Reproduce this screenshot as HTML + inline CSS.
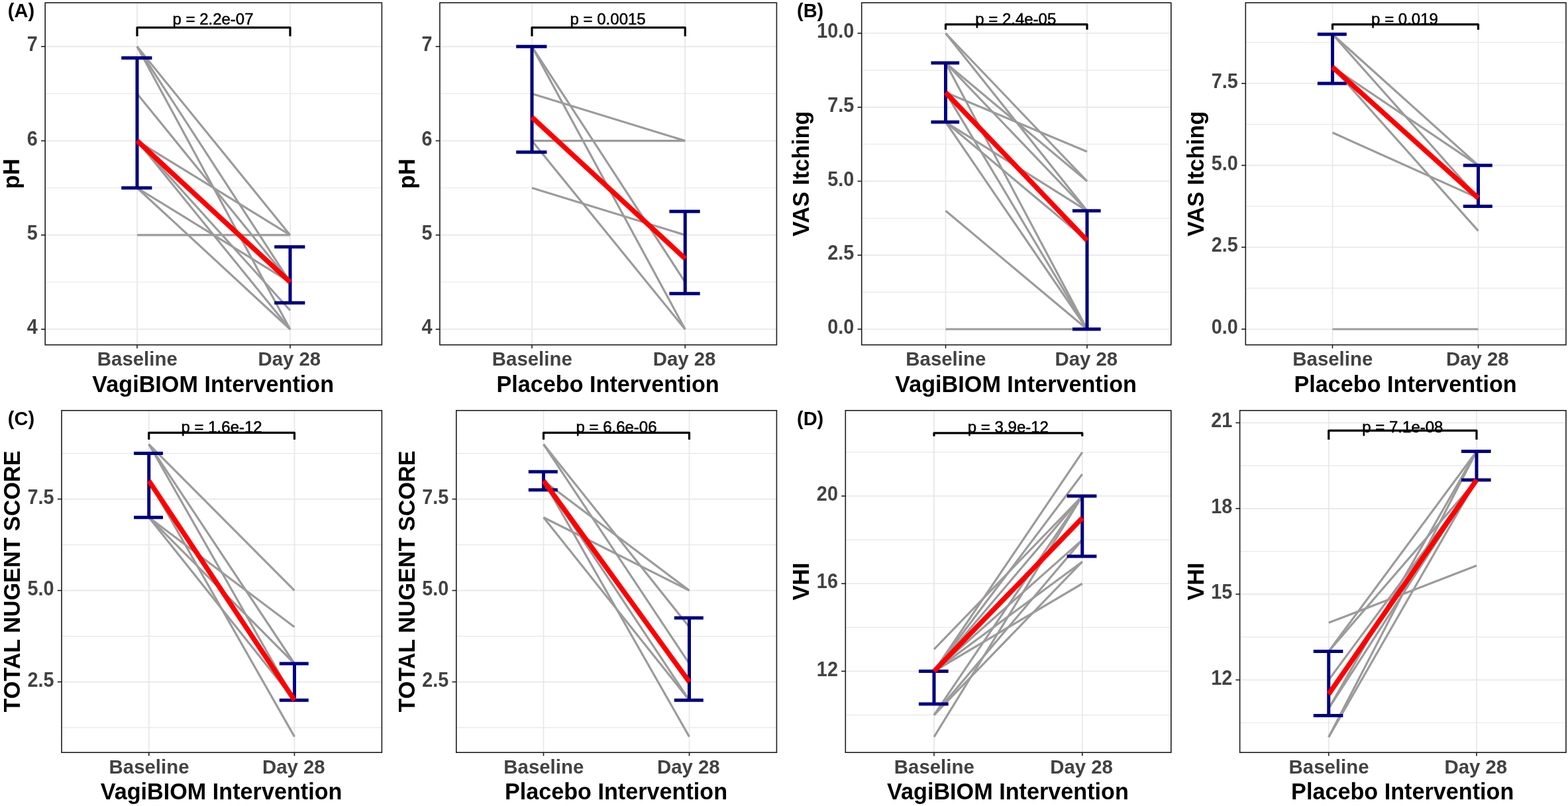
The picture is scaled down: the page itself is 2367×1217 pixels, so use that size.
<!DOCTYPE html>
<html lang="en"><head><meta charset="utf-8"><title>Figure</title>
<style>
html,body{margin:0;padding:0;background:#fff;}
body{width:2367px;height:1217px;overflow:hidden;}
svg{display:block;}
text{font-family:"Liberation Sans", sans-serif;}
.tk{font-size:29.4px;font-weight:bold;fill:#424242;}
.ty{font-size:28.8px;}
.ti{font-size:34.2px;font-weight:bold;fill:#000;}
.pv{font-size:24px;fill:#000;stroke:#000;stroke-width:0.5px;}
.tg{font-size:29px;font-weight:bold;fill:#000;}
.gM{stroke:#e7e7e7;stroke-width:1.7;}
.gm{stroke:#e7e7e7;stroke-width:1.1;}
.dl{stroke:#9b9b9b;stroke-width:3.2;stroke-linecap:butt;}
.rd{stroke:#ff0000;stroke-width:7.5;stroke-linecap:butt;}
.eb{stroke:#000080;stroke-width:5;fill:none;}
.br{stroke:#000;stroke-width:3.2;fill:none;stroke-linejoin:round;}
.fr{stroke:#1c1c1c;stroke-width:1.6;fill:none;}
.tm{stroke:#1c1c1c;stroke-width:1.6;}
</style></head><body>
<svg width="2367" height="1217" viewBox="0 0 2367 1217" role="img" aria-label="Paired line plots of pH, VAS itching, total Nugent score and VHI at baseline and day 28">
<rect x="0" y="0" width="2367" height="1217" fill="#ffffff"/>
<g id="A1">
<rect x="68.2" y="4.2" width="508.2" height="516.5" fill="#fff"/>
<line class="gm" x1="68.2" x2="576.4" y1="426.05" y2="426.05"/>
<line class="gm" x1="68.2" x2="576.4" y1="283.75" y2="283.75"/>
<line class="gm" x1="68.2" x2="576.4" y1="141.45" y2="141.45"/>
<line class="gM" x1="68.2" x2="576.4" y1="497.2" y2="497.2"/>
<line class="gM" x1="68.2" x2="576.4" y1="354.9" y2="354.9"/>
<line class="gM" x1="68.2" x2="576.4" y1="212.6" y2="212.6"/>
<line class="gM" x1="68.2" x2="576.4" y1="70.3" y2="70.3"/>
<line class="gM" x1="207" x2="207" y1="4.2" y2="520.7"/>
<line class="gM" x1="438" x2="438" y1="4.2" y2="520.7"/>
<line class="dl" x1="207" y1="70.3" x2="438" y2="354.9"/>
<line class="dl" x1="207" y1="70.3" x2="438" y2="426.05"/>
<line class="dl" x1="207" y1="70.3" x2="438" y2="497.2"/>
<line class="dl" x1="207" y1="141.45" x2="438" y2="426.05"/>
<line class="dl" x1="207" y1="212.6" x2="438" y2="354.9"/>
<line class="dl" x1="207" y1="212.6" x2="438" y2="426.05"/>
<line class="dl" x1="207" y1="212.6" x2="438" y2="468.74"/>
<line class="dl" x1="207" y1="212.6" x2="438" y2="497.2"/>
<line class="dl" x1="207" y1="283.75" x2="438" y2="426.05"/>
<line class="dl" x1="207" y1="283.75" x2="438" y2="497.2"/>
<line class="dl" x1="207" y1="354.9" x2="438" y2="354.9"/>
<path class="eb" d="M183.2 87.38H229.4M183.2 283.75H229.4M207 87.38V283.75"/>
<path class="eb" d="M414.2 372.69H460.4M414.2 457.36H460.4M438 372.69V457.36"/>
<line class="rd" x1="207" y1="212.6" x2="438" y2="426.05"/>
<text class="pv" transform="translate(321.5 37) scale(1 1.03)" text-anchor="middle">p = 2.2e-07</text>
<path class="br" d="M207 54.8V41.6H438V54.8"/>
<rect class="fr" x="68.2" y="4.2" width="508.2" height="516.5"/>
<line class="tm" x1="62" x2="68.2" y1="497.2" y2="497.2"/>
<text class="tk ty" transform="translate(56.8 504.2) scale(1 1.08)" text-anchor="end">4</text>
<line class="tm" x1="62" x2="68.2" y1="354.9" y2="354.9"/>
<text class="tk ty" transform="translate(56.8 361.9) scale(1 1.08)" text-anchor="end">5</text>
<line class="tm" x1="62" x2="68.2" y1="212.6" y2="212.6"/>
<text class="tk ty" transform="translate(56.8 219.6) scale(1 1.08)" text-anchor="end">6</text>
<line class="tm" x1="62" x2="68.2" y1="70.3" y2="70.3"/>
<text class="tk ty" transform="translate(56.8 77.3) scale(1 1.08)" text-anchor="end">7</text>
<line class="tm" x1="207" x2="207" y1="520.7" y2="525.9"/>
<text class="tk" transform="translate(207.3 552.4) scale(1 1.03)" text-anchor="middle">Baseline</text>
<line class="tm" x1="438" x2="438" y1="520.7" y2="525.9"/>
<text class="tk" transform="translate(436.8 552.4) scale(1 1.03)" text-anchor="middle">Day 28</text>
<text class="ti" transform="translate(321.7 591.5) scale(1 1.04)" text-anchor="middle">VagiBIOM Intervention</text>
<text class="ti" transform="translate(29.3 262.45) rotate(-90) scale(1 1.04)" text-anchor="middle">pH</text>
<text class="tg" transform="translate(11.8 26) scale(1 1.03)" text-anchor="start">(A)</text>
</g>
<g id="A2">
<rect x="663.9" y="4.2" width="508.5" height="516.5" fill="#fff"/>
<line class="gm" x1="663.9" x2="1172.4" y1="426.05" y2="426.05"/>
<line class="gm" x1="663.9" x2="1172.4" y1="283.75" y2="283.75"/>
<line class="gm" x1="663.9" x2="1172.4" y1="141.45" y2="141.45"/>
<line class="gM" x1="663.9" x2="1172.4" y1="497.2" y2="497.2"/>
<line class="gM" x1="663.9" x2="1172.4" y1="354.9" y2="354.9"/>
<line class="gM" x1="663.9" x2="1172.4" y1="212.6" y2="212.6"/>
<line class="gM" x1="663.9" x2="1172.4" y1="70.3" y2="70.3"/>
<line class="gM" x1="803" x2="803" y1="4.2" y2="520.7"/>
<line class="gM" x1="1034.25" x2="1034.25" y1="4.2" y2="520.7"/>
<line class="dl" x1="803" y1="70.3" x2="1034.25" y2="426.05"/>
<line class="dl" x1="803" y1="70.3" x2="1034.25" y2="497.2"/>
<line class="dl" x1="803" y1="141.45" x2="1034.25" y2="212.6"/>
<line class="dl" x1="803" y1="212.6" x2="1034.25" y2="212.6"/>
<line class="dl" x1="803" y1="212.6" x2="1034.25" y2="497.2"/>
<line class="dl" x1="803" y1="283.75" x2="1034.25" y2="354.9"/>
<path class="eb" d="M779.17 70.3H825.42M779.17 229.68H825.42M803 70.3V229.68"/>
<path class="eb" d="M1010.42 319.32H1056.67M1010.42 443.13H1056.67M1034.25 319.32V443.13"/>
<line class="rd" x1="803" y1="177.02" x2="1034.25" y2="390.47"/>
<text class="pv" transform="translate(917.62 37) scale(1 1.03)" text-anchor="middle">p = 0.0015</text>
<path class="br" d="M803 54.8V41.6H1034.25V54.8"/>
<rect class="fr" x="663.9" y="4.2" width="508.5" height="516.5"/>
<line class="tm" x1="657.7" x2="663.9" y1="497.2" y2="497.2"/>
<text class="tk ty" transform="translate(652.5 504.2) scale(1 1.08)" text-anchor="end">4</text>
<line class="tm" x1="657.7" x2="663.9" y1="354.9" y2="354.9"/>
<text class="tk ty" transform="translate(652.5 361.9) scale(1 1.08)" text-anchor="end">5</text>
<line class="tm" x1="657.7" x2="663.9" y1="212.6" y2="212.6"/>
<text class="tk ty" transform="translate(652.5 219.6) scale(1 1.08)" text-anchor="end">6</text>
<line class="tm" x1="657.7" x2="663.9" y1="70.3" y2="70.3"/>
<text class="tk ty" transform="translate(652.5 77.3) scale(1 1.08)" text-anchor="end">7</text>
<line class="tm" x1="803" x2="803" y1="520.7" y2="525.9"/>
<text class="tk" transform="translate(803.3 552.4) scale(1 1.03)" text-anchor="middle">Baseline</text>
<line class="tm" x1="1034.25" x2="1034.25" y1="520.7" y2="525.9"/>
<text class="tk" transform="translate(1033.05 552.4) scale(1 1.03)" text-anchor="middle">Day 28</text>
<text class="ti" transform="translate(917.55 591.5) scale(1 1.04)" text-anchor="middle">Placebo Intervention</text>
<text class="ti" transform="translate(625.8 262.45) rotate(-90) scale(1 1.04)" text-anchor="middle">pH</text>
</g>
<g id="B1">
<rect x="1300.7" y="4.2" width="467.1" height="516.5" fill="#fff"/>
<line class="gm" x1="1300.7" x2="1767.8" y1="441.16" y2="441.16"/>
<line class="gm" x1="1300.7" x2="1767.8" y1="329.47" y2="329.47"/>
<line class="gm" x1="1300.7" x2="1767.8" y1="217.78" y2="217.78"/>
<line class="gm" x1="1300.7" x2="1767.8" y1="106.09" y2="106.09"/>
<line class="gM" x1="1300.7" x2="1767.8" y1="497" y2="497"/>
<line class="gM" x1="1300.7" x2="1767.8" y1="385.31" y2="385.31"/>
<line class="gM" x1="1300.7" x2="1767.8" y1="273.62" y2="273.62"/>
<line class="gM" x1="1300.7" x2="1767.8" y1="161.94" y2="161.94"/>
<line class="gM" x1="1300.7" x2="1767.8" y1="50.25" y2="50.25"/>
<line class="gM" x1="1427.5" x2="1427.5" y1="4.2" y2="520.7"/>
<line class="gM" x1="1641" x2="1641" y1="4.2" y2="520.7"/>
<line class="dl" x1="1427.5" y1="50.25" x2="1641" y2="273.62"/>
<line class="dl" x1="1427.5" y1="50.25" x2="1641" y2="318.3"/>
<line class="dl" x1="1427.5" y1="94.92" x2="1641" y2="273.62"/>
<line class="dl" x1="1427.5" y1="94.92" x2="1641" y2="318.3"/>
<line class="dl" x1="1427.5" y1="94.92" x2="1641" y2="497"/>
<line class="dl" x1="1427.5" y1="139.6" x2="1641" y2="228.95"/>
<line class="dl" x1="1427.5" y1="139.6" x2="1641" y2="497"/>
<line class="dl" x1="1427.5" y1="184.27" x2="1641" y2="318.3"/>
<line class="dl" x1="1427.5" y1="184.27" x2="1641" y2="362.97"/>
<line class="dl" x1="1427.5" y1="184.27" x2="1641" y2="497"/>
<line class="dl" x1="1427.5" y1="318.3" x2="1641" y2="497"/>
<line class="dl" x1="1427.5" y1="497" x2="1641" y2="497"/>
<path class="eb" d="M1405.45 94.92H1448.15M1405.45 184.27H1448.15M1427.5 94.92V184.27"/>
<path class="eb" d="M1618.95 318.3H1661.65M1618.95 497H1661.65M1641 318.3V497"/>
<line class="rd" x1="1427.5" y1="139.6" x2="1641" y2="362.97"/>
<text class="pv" transform="translate(1533.25 37) scale(1 1.03)" text-anchor="middle">p = 2.4e-05</text>
<path class="br" d="M1427.5 44.8V36.8H1641V44.8"/>
<rect class="fr" x="1300.7" y="4.2" width="467.1" height="516.5"/>
<line class="tm" x1="1294.5" x2="1300.7" y1="497" y2="497"/>
<text class="tk ty" transform="translate(1289.3 504) scale(1 1.08)" text-anchor="end">0.0</text>
<line class="tm" x1="1294.5" x2="1300.7" y1="385.31" y2="385.31"/>
<text class="tk ty" transform="translate(1289.3 392.31) scale(1 1.08)" text-anchor="end">2.5</text>
<line class="tm" x1="1294.5" x2="1300.7" y1="273.62" y2="273.62"/>
<text class="tk ty" transform="translate(1289.3 280.62) scale(1 1.08)" text-anchor="end">5.0</text>
<line class="tm" x1="1294.5" x2="1300.7" y1="161.94" y2="161.94"/>
<text class="tk ty" transform="translate(1289.3 168.94) scale(1 1.08)" text-anchor="end">7.5</text>
<line class="tm" x1="1294.5" x2="1300.7" y1="50.25" y2="50.25"/>
<text class="tk ty" transform="translate(1289.3 57.25) scale(1 1.08)" text-anchor="end">10.0</text>
<line class="tm" x1="1427.5" x2="1427.5" y1="520.7" y2="525.9"/>
<text class="tk" transform="translate(1427.8 552.4) scale(1 1.03)" text-anchor="middle">Baseline</text>
<line class="tm" x1="1641" x2="1641" y1="520.7" y2="525.9"/>
<text class="tk" transform="translate(1639.8 552.4) scale(1 1.03)" text-anchor="middle">Day 28</text>
<text class="ti" transform="translate(1533.65 591.5) scale(1 1.04)" text-anchor="middle">VagiBIOM Intervention</text>
<text class="ti" transform="translate(1221.1 262.45) rotate(-90) scale(1 1.04)" text-anchor="middle">VAS Itching</text>
<text class="tg" transform="translate(1203 26) scale(1 1.03)" text-anchor="start">(B)</text>
</g>
<g id="B2">
<rect x="1880.3" y="4.2" width="483.7" height="516.5" fill="#fff"/>
<line class="gm" x1="1880.3" x2="2364" y1="435.17" y2="435.17"/>
<line class="gm" x1="1880.3" x2="2364" y1="311.5" y2="311.5"/>
<line class="gm" x1="1880.3" x2="2364" y1="187.83" y2="187.83"/>
<line class="gm" x1="1880.3" x2="2364" y1="64.17" y2="64.17"/>
<line class="gM" x1="1880.3" x2="2364" y1="497" y2="497"/>
<line class="gM" x1="1880.3" x2="2364" y1="373.33" y2="373.33"/>
<line class="gM" x1="1880.3" x2="2364" y1="249.67" y2="249.67"/>
<line class="gM" x1="1880.3" x2="2364" y1="126" y2="126"/>
<line class="gM" x1="2011.5" x2="2011.5" y1="4.2" y2="520.7"/>
<line class="gM" x1="2231.5" x2="2231.5" y1="4.2" y2="520.7"/>
<line class="dl" x1="2011.5" y1="51.8" x2="2231.5" y2="249.67"/>
<line class="dl" x1="2011.5" y1="51.8" x2="2231.5" y2="299.13"/>
<line class="dl" x1="2011.5" y1="101.27" x2="2231.5" y2="249.67"/>
<line class="dl" x1="2011.5" y1="101.27" x2="2231.5" y2="348.6"/>
<line class="dl" x1="2011.5" y1="200.2" x2="2231.5" y2="299.13"/>
<line class="dl" x1="2011.5" y1="497" x2="2231.5" y2="497"/>
<path class="eb" d="M1988.8 51.8H2032.8M1988.8 126H2032.8M2011.5 51.8V126"/>
<path class="eb" d="M2208.8 249.67H2252.8M2208.8 311.5H2252.8M2231.5 249.67V311.5"/>
<line class="rd" x1="2011.5" y1="101.27" x2="2231.5" y2="299.13"/>
<text class="pv" transform="translate(2120.5 37) scale(1 1.03)" text-anchor="middle">p = 0.019</text>
<path class="br" d="M2011.5 45V36.8H2231.5V45"/>
<rect class="fr" x="1880.3" y="4.2" width="483.7" height="516.5"/>
<line class="tm" x1="1874.1" x2="1880.3" y1="497" y2="497"/>
<text class="tk ty" transform="translate(1868.9 504) scale(1 1.08)" text-anchor="end">0.0</text>
<line class="tm" x1="1874.1" x2="1880.3" y1="373.33" y2="373.33"/>
<text class="tk ty" transform="translate(1868.9 380.33) scale(1 1.08)" text-anchor="end">2.5</text>
<line class="tm" x1="1874.1" x2="1880.3" y1="249.67" y2="249.67"/>
<text class="tk ty" transform="translate(1868.9 256.67) scale(1 1.08)" text-anchor="end">5.0</text>
<line class="tm" x1="1874.1" x2="1880.3" y1="126" y2="126"/>
<text class="tk ty" transform="translate(1868.9 133) scale(1 1.08)" text-anchor="end">7.5</text>
<line class="tm" x1="2011.5" x2="2011.5" y1="520.7" y2="525.9"/>
<text class="tk" transform="translate(2011.8 552.4) scale(1 1.03)" text-anchor="middle">Baseline</text>
<line class="tm" x1="2231.5" x2="2231.5" y1="520.7" y2="525.9"/>
<text class="tk" transform="translate(2230.3 552.4) scale(1 1.03)" text-anchor="middle">Day 28</text>
<text class="ti" transform="translate(2121.55 591.5) scale(1 1.04)" text-anchor="middle">Placebo Intervention</text>
<text class="ti" transform="translate(1817.1 262.45) rotate(-90) scale(1 1.04)" text-anchor="middle">VAS Itching</text>
</g>
<g id="C1">
<rect x="93" y="619.8" width="483.4" height="516.4" fill="#fff"/>
<line class="gm" x1="93" x2="576.4" y1="1098.6" y2="1098.6"/>
<line class="gm" x1="93" x2="576.4" y1="960.6" y2="960.6"/>
<line class="gm" x1="93" x2="576.4" y1="822.6" y2="822.6"/>
<line class="gm" x1="93" x2="576.4" y1="684.6" y2="684.6"/>
<line class="gM" x1="93" x2="576.4" y1="1029.6" y2="1029.6"/>
<line class="gM" x1="93" x2="576.4" y1="891.6" y2="891.6"/>
<line class="gM" x1="93" x2="576.4" y1="753.6" y2="753.6"/>
<line class="gM" x1="224.75" x2="224.75" y1="619.8" y2="1136.2"/>
<line class="gM" x1="444.5" x2="444.5" y1="619.8" y2="1136.2"/>
<line class="dl" x1="224.75" y1="670.8" x2="444.5" y2="891.6"/>
<line class="dl" x1="224.75" y1="670.8" x2="444.5" y2="1002"/>
<line class="dl" x1="224.75" y1="670.8" x2="444.5" y2="1057.2"/>
<line class="dl" x1="224.75" y1="726" x2="444.5" y2="1112.4"/>
<line class="dl" x1="224.75" y1="781.2" x2="444.5" y2="946.8"/>
<line class="dl" x1="224.75" y1="781.2" x2="444.5" y2="1002"/>
<line class="dl" x1="224.75" y1="781.2" x2="444.5" y2="1057.2"/>
<path class="eb" d="M202.08 684.6H246.03M202.08 781.2H246.03M224.75 684.6V781.2"/>
<path class="eb" d="M421.82 1002H465.78M421.82 1057.2H465.78M444.5 1002V1057.2"/>
<line class="rd" x1="224.75" y1="726" x2="444.5" y2="1057.2"/>
<text class="pv" transform="translate(334.62 652.9) scale(1 1.03)" text-anchor="middle">p = 1.6e-12</text>
<path class="br" d="M224.75 663.7V653.4H444.5V663.7"/>
<rect class="fr" x="93" y="619.8" width="483.4" height="516.4"/>
<line class="tm" x1="86.8" x2="93" y1="1029.6" y2="1029.6"/>
<text class="tk ty" transform="translate(81.6 1036.6) scale(1 1.08)" text-anchor="end">2.5</text>
<line class="tm" x1="86.8" x2="93" y1="891.6" y2="891.6"/>
<text class="tk ty" transform="translate(81.6 898.6) scale(1 1.08)" text-anchor="end">5.0</text>
<line class="tm" x1="86.8" x2="93" y1="753.6" y2="753.6"/>
<text class="tk ty" transform="translate(81.6 760.6) scale(1 1.08)" text-anchor="end">7.5</text>
<line class="tm" x1="224.75" x2="224.75" y1="1136.2" y2="1141.4"/>
<text class="tk" transform="translate(225.05 1167.9) scale(1 1.03)" text-anchor="middle">Baseline</text>
<line class="tm" x1="444.5" x2="444.5" y1="1136.2" y2="1141.4"/>
<text class="tk" transform="translate(443.3 1167.9) scale(1 1.03)" text-anchor="middle">Day 28</text>
<text class="ti" transform="translate(334.1 1207) scale(1 1.04)" text-anchor="middle">VagiBIOM Intervention</text>
<text class="ti" transform="translate(29.8 878) rotate(-90) scale(1 1.04)" text-anchor="middle">TOTAL NUGENT SCORE</text>
<text class="tg" transform="translate(11.8 642) scale(1 1.03)" text-anchor="start">(C)</text>
</g>
<g id="C2">
<rect x="688.8" y="619.8" width="483.6" height="516.4" fill="#fff"/>
<line class="gm" x1="688.8" x2="1172.4" y1="1098.6" y2="1098.6"/>
<line class="gm" x1="688.8" x2="1172.4" y1="960.6" y2="960.6"/>
<line class="gm" x1="688.8" x2="1172.4" y1="822.6" y2="822.6"/>
<line class="gm" x1="688.8" x2="1172.4" y1="684.6" y2="684.6"/>
<line class="gM" x1="688.8" x2="1172.4" y1="1029.6" y2="1029.6"/>
<line class="gM" x1="688.8" x2="1172.4" y1="891.6" y2="891.6"/>
<line class="gM" x1="688.8" x2="1172.4" y1="753.6" y2="753.6"/>
<line class="gM" x1="820.5" x2="820.5" y1="619.8" y2="1136.2"/>
<line class="gM" x1="1040.5" x2="1040.5" y1="619.8" y2="1136.2"/>
<line class="dl" x1="820.5" y1="670.8" x2="1040.5" y2="946.8"/>
<line class="dl" x1="820.5" y1="670.8" x2="1040.5" y2="1002"/>
<line class="dl" x1="820.5" y1="726" x2="1040.5" y2="891.6"/>
<line class="dl" x1="820.5" y1="726" x2="1040.5" y2="1057.2"/>
<line class="dl" x1="820.5" y1="726" x2="1040.5" y2="1112.4"/>
<line class="dl" x1="820.5" y1="781.2" x2="1040.5" y2="891.6"/>
<line class="dl" x1="820.5" y1="781.2" x2="1040.5" y2="1057.2"/>
<path class="eb" d="M797.8 712.2H841.8M797.8 739.8H841.8M820.5 712.2V739.8"/>
<path class="eb" d="M1017.8 933H1061.8M1017.8 1057.2H1061.8M1040.5 933V1057.2"/>
<line class="rd" x1="820.5" y1="726" x2="1040.5" y2="1029.6"/>
<text class="pv" transform="translate(930.5 652.9) scale(1 1.03)" text-anchor="middle">p = 6.6e-06</text>
<path class="br" d="M820.5 663.7V653.4H1040.5V663.7"/>
<rect class="fr" x="688.8" y="619.8" width="483.6" height="516.4"/>
<line class="tm" x1="682.6" x2="688.8" y1="1029.6" y2="1029.6"/>
<text class="tk ty" transform="translate(677.4 1036.6) scale(1 1.08)" text-anchor="end">2.5</text>
<line class="tm" x1="682.6" x2="688.8" y1="891.6" y2="891.6"/>
<text class="tk ty" transform="translate(677.4 898.6) scale(1 1.08)" text-anchor="end">5.0</text>
<line class="tm" x1="682.6" x2="688.8" y1="753.6" y2="753.6"/>
<text class="tk ty" transform="translate(677.4 760.6) scale(1 1.08)" text-anchor="end">7.5</text>
<line class="tm" x1="820.5" x2="820.5" y1="1136.2" y2="1141.4"/>
<text class="tk" transform="translate(820.8 1167.9) scale(1 1.03)" text-anchor="middle">Baseline</text>
<line class="tm" x1="1040.5" x2="1040.5" y1="1136.2" y2="1141.4"/>
<text class="tk" transform="translate(1039.3 1167.9) scale(1 1.03)" text-anchor="middle">Day 28</text>
<text class="ti" transform="translate(930 1207) scale(1 1.04)" text-anchor="middle">Placebo Intervention</text>
<text class="ti" transform="translate(625.8 878) rotate(-90) scale(1 1.04)" text-anchor="middle">TOTAL NUGENT SCORE</text>
</g>
<g id="D1">
<rect x="1276.3" y="619.8" width="491.5" height="516.4" fill="#fff"/>
<line class="gm" x1="1276.3" x2="1767.8" y1="1079.62" y2="1079.62"/>
<line class="gm" x1="1276.3" x2="1767.8" y1="947.38" y2="947.38"/>
<line class="gm" x1="1276.3" x2="1767.8" y1="815.12" y2="815.12"/>
<line class="gm" x1="1276.3" x2="1767.8" y1="682.88" y2="682.88"/>
<line class="gM" x1="1276.3" x2="1767.8" y1="1013.5" y2="1013.5"/>
<line class="gM" x1="1276.3" x2="1767.8" y1="881.25" y2="881.25"/>
<line class="gM" x1="1276.3" x2="1767.8" y1="749" y2="749"/>
<line class="gM" x1="1410" x2="1410" y1="619.8" y2="1136.2"/>
<line class="gM" x1="1633.75" x2="1633.75" y1="619.8" y2="1136.2"/>
<line class="dl" x1="1410" y1="980.44" x2="1633.75" y2="749"/>
<line class="dl" x1="1410" y1="1013.5" x2="1633.75" y2="682.88"/>
<line class="dl" x1="1410" y1="1013.5" x2="1633.75" y2="715.94"/>
<line class="dl" x1="1410" y1="1013.5" x2="1633.75" y2="749"/>
<line class="dl" x1="1410" y1="1013.5" x2="1633.75" y2="815.12"/>
<line class="dl" x1="1410" y1="1013.5" x2="1633.75" y2="848.19"/>
<line class="dl" x1="1410" y1="1013.5" x2="1633.75" y2="881.25"/>
<line class="dl" x1="1410" y1="1079.62" x2="1633.75" y2="749"/>
<line class="dl" x1="1410" y1="1079.62" x2="1633.75" y2="815.12"/>
<line class="dl" x1="1410" y1="1079.62" x2="1633.75" y2="848.19"/>
<line class="dl" x1="1410" y1="1112.69" x2="1633.75" y2="749"/>
<path class="eb" d="M1386.92 1013.5H1431.67M1386.92 1063.09H1431.67M1410 1013.5V1063.09"/>
<path class="eb" d="M1610.67 749H1655.42M1610.67 839.92H1655.42M1633.75 749V839.92"/>
<line class="rd" x1="1410" y1="1013.5" x2="1633.75" y2="782.06"/>
<text class="pv" transform="translate(1521.88 652.9) scale(1 1.03)" text-anchor="middle">p = 3.9e-12</text>
<path class="br" d="M1410 658.7V653.9H1633.75V658.7"/>
<rect class="fr" x="1276.3" y="619.8" width="491.5" height="516.4"/>
<line class="tm" x1="1270.1" x2="1276.3" y1="1013.5" y2="1013.5"/>
<text class="tk ty" transform="translate(1264.9 1020.5) scale(1 1.08)" text-anchor="end">12</text>
<line class="tm" x1="1270.1" x2="1276.3" y1="881.25" y2="881.25"/>
<text class="tk ty" transform="translate(1264.9 888.25) scale(1 1.08)" text-anchor="end">16</text>
<line class="tm" x1="1270.1" x2="1276.3" y1="749" y2="749"/>
<text class="tk ty" transform="translate(1264.9 756) scale(1 1.08)" text-anchor="end">20</text>
<line class="tm" x1="1410" x2="1410" y1="1136.2" y2="1141.4"/>
<text class="tk" transform="translate(1410.3 1167.9) scale(1 1.03)" text-anchor="middle">Baseline</text>
<line class="tm" x1="1633.75" x2="1633.75" y1="1136.2" y2="1141.4"/>
<text class="tk" transform="translate(1632.55 1167.9) scale(1 1.03)" text-anchor="middle">Day 28</text>
<text class="ti" transform="translate(1521.45 1207) scale(1 1.04)" text-anchor="middle">VagiBIOM Intervention</text>
<text class="ti" transform="translate(1221.1 878) rotate(-90) scale(1 1.04)" text-anchor="middle">VHI</text>
<text class="tg" transform="translate(1203 642) scale(1 1.03)" text-anchor="start">(D)</text>
</g>
<g id="D2">
<rect x="1871.6" y="619.8" width="492.4" height="516.4" fill="#fff"/>
<line class="gm" x1="1871.6" x2="2364" y1="1091.3" y2="1091.3"/>
<line class="gm" x1="1871.6" x2="2364" y1="961.9" y2="961.9"/>
<line class="gm" x1="1871.6" x2="2364" y1="832.5" y2="832.5"/>
<line class="gm" x1="1871.6" x2="2364" y1="703.1" y2="703.1"/>
<line class="gM" x1="1871.6" x2="2364" y1="1026.6" y2="1026.6"/>
<line class="gM" x1="1871.6" x2="2364" y1="897.2" y2="897.2"/>
<line class="gM" x1="1871.6" x2="2364" y1="767.8" y2="767.8"/>
<line class="gM" x1="1871.6" x2="2364" y1="638.4" y2="638.4"/>
<line class="gM" x1="2005.75" x2="2005.75" y1="619.8" y2="1136.2"/>
<line class="gM" x1="2229" x2="2229" y1="619.8" y2="1136.2"/>
<line class="dl" x1="2005.75" y1="940.33" x2="2229" y2="854.07"/>
<line class="dl" x1="2005.75" y1="983.47" x2="2229" y2="681.53"/>
<line class="dl" x1="2005.75" y1="983.47" x2="2229" y2="724.67"/>
<line class="dl" x1="2005.75" y1="1026.6" x2="2229" y2="724.67"/>
<line class="dl" x1="2005.75" y1="1069.73" x2="2229" y2="681.53"/>
<line class="dl" x1="2005.75" y1="1069.73" x2="2229" y2="724.67"/>
<line class="dl" x1="2005.75" y1="1112.87" x2="2229" y2="681.53"/>
<line class="dl" x1="2005.75" y1="1112.87" x2="2229" y2="724.67"/>
<path class="eb" d="M1982.72 983.47H2027.38M1982.72 1080.52H2027.38M2005.75 983.47V1080.52"/>
<path class="eb" d="M2205.98 681.53H2250.62M2205.98 724.67H2250.62M2229 681.53V724.67"/>
<line class="rd" x1="2005.75" y1="1048.17" x2="2229" y2="724.67"/>
<text class="pv" transform="translate(2117.38 652.9) scale(1 1.03)" text-anchor="middle">p = 7.1e-08</text>
<path class="br" d="M2005.75 663.7V650.2H2229V663.7"/>
<rect class="fr" x="1871.6" y="619.8" width="492.4" height="516.4"/>
<line class="tm" x1="1865.4" x2="1871.6" y1="1026.6" y2="1026.6"/>
<text class="tk ty" transform="translate(1860.2 1033.6) scale(1 1.08)" text-anchor="end">12</text>
<line class="tm" x1="1865.4" x2="1871.6" y1="897.2" y2="897.2"/>
<text class="tk ty" transform="translate(1860.2 904.2) scale(1 1.08)" text-anchor="end">15</text>
<line class="tm" x1="1865.4" x2="1871.6" y1="767.8" y2="767.8"/>
<text class="tk ty" transform="translate(1860.2 774.8) scale(1 1.08)" text-anchor="end">18</text>
<line class="tm" x1="1865.4" x2="1871.6" y1="638.4" y2="638.4"/>
<text class="tk ty" transform="translate(1860.2 645.4) scale(1 1.08)" text-anchor="end">21</text>
<line class="tm" x1="2005.75" x2="2005.75" y1="1136.2" y2="1141.4"/>
<text class="tk" transform="translate(2006.05 1167.9) scale(1 1.03)" text-anchor="middle">Baseline</text>
<line class="tm" x1="2229" x2="2229" y1="1136.2" y2="1141.4"/>
<text class="tk" transform="translate(2227.8 1167.9) scale(1 1.03)" text-anchor="middle">Day 28</text>
<text class="ti" transform="translate(2117.2 1207) scale(1 1.04)" text-anchor="middle">Placebo Intervention</text>
<text class="ti" transform="translate(1817.1 878) rotate(-90) scale(1 1.04)" text-anchor="middle">VHI</text>
</g>
</svg>
</body></html>
